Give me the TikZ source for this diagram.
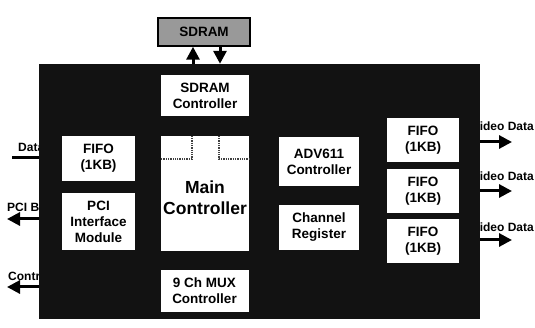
\documentclass[tikz,border=0pt]{standalone}
\usepackage{fontspec}
\setmainfont{Liberation Sans}
\usetikzlibrary{arrows.meta}
\begin{document}
\begin{tikzpicture}[x=1pt,y=-1pt,
  wbox/.style={draw=none,fill=white,inner sep=0pt,align=center,
    font=\fontsize{13.5}{16}\selectfont\bfseries},
  lbl/.style={inner sep=0pt,font=\fontsize{12}{14}\selectfont\bfseries},
  fat/.style={line width=3pt,-{Triangle[length=13pt,width=13pt]}},
  plain/.style={line width=3pt},
  dots/.style={densely dotted,line width=1.3pt,black!75}]
\useasboundingbox (0,0) rectangle (535,328);
% labels (partly hidden under the chip body)
\node[lbl,anchor=base west] (ldata) at (18,152) {Data};
\node[lbl,anchor=base west] (lpci) at (7,212) {PCI Bus};
\node[lbl,anchor=base west] (lctl) at (8,281) {Control};
\node[lbl,anchor=base east] (v1) at (534,131) {Video Data};
\node[lbl,anchor=base east] (v2) at (534,181) {Video Data};
\node[lbl,anchor=base east] (v3) at (534,232) {Video Data};
% chip body
\node[fill=black!93,draw=none,inner sep=0pt,minimum width=441pt,minimum height=255pt] (chip) at (259.5,191.5) {};
% SDRAM
\node[draw=black,line width=1.5pt,fill=black!40,inner sep=0pt,minimum width=92pt,minimum height=28pt,
  font=\fontsize{13.5}{16}\selectfont\bfseries] (sdram) at (204,32) {SDRAM};
% inner blocks
\node[wbox,minimum width=88pt,minimum height=41pt] (sdc) at (205,95.5) {SDRAM\\Controller};
\node[wbox,minimum width=88pt,minimum height=115pt,font=\fontsize{17.5}{21.5}\selectfont\bfseries] (main) at (205,193.5) {\\Main\\Controller};
\node[wbox,minimum width=80pt,minimum height=49pt] (adv) at (319,161.5) {ADV611\\Controller};
\node[wbox,minimum width=80pt,minimum height=45pt] (chr) at (319,227.5) {Channel\\Register};
\node[wbox,minimum width=88pt,minimum height=42pt] (mux) at (204.5,291) {9 Ch MUX\\Controller};
\node[wbox,minimum width=73pt,minimum height=45pt] (fifol) at (98.5,158.5) {FIFO\\(1KB)};
\node[wbox,minimum width=73pt,minimum height=57pt] (pci) at (98.5,221.5) {PCI\\Interface\\Module};
\node[wbox,minimum width=72pt,minimum height=44pt] (f1) at (423,140) {FIFO\\(1KB)};
\node[wbox,minimum width=72pt,minimum height=44pt] (f2) at (423,191) {FIFO\\(1KB)};
\node[wbox,minimum width=72pt,minimum height=44pt] (f3) at (423,241.5) {FIFO\\(1KB)};
% dotted marks in main controller
\coordinate (d1) at (192,159);
\coordinate (d2) at (219,159);
\draw[dots] (main.north -| d1) -- (d1) -- (main.west |- d1);
\draw[dots] (main.north -| d2) -- (d2) -- (main.east |- d2);
% SDRAM connectors
\coordinate (ua) at (193,0);
\coordinate (da) at (220,0);
\draw[fat] (chip.north -| ua) -- (sdram.south -| ua);
\draw[fat] (sdram.south -| da) -- (chip.north -| da);
% left connectors
\coordinate (dataend) at (12,158);
\coordinate (pciend) at (7,219);
\coordinate (ctlend) at (7,287);
\draw[plain] (dataend) -- (chip.west |- dataend);
\draw[fat] (chip.west |- pciend) -- (pciend);
\draw[fat] (chip.west |- ctlend) -- (ctlend);
% right connectors
\coordinate (r1) at (512,142);
\coordinate (r2) at (512,191);
\coordinate (r3) at (512,240);
\draw[fat] (chip.east |- r1) -- (r1);
\draw[fat] (chip.east |- r2) -- (r2);
\draw[fat] (chip.east |- r3) -- (r3);
\end{tikzpicture}
\end{document}
